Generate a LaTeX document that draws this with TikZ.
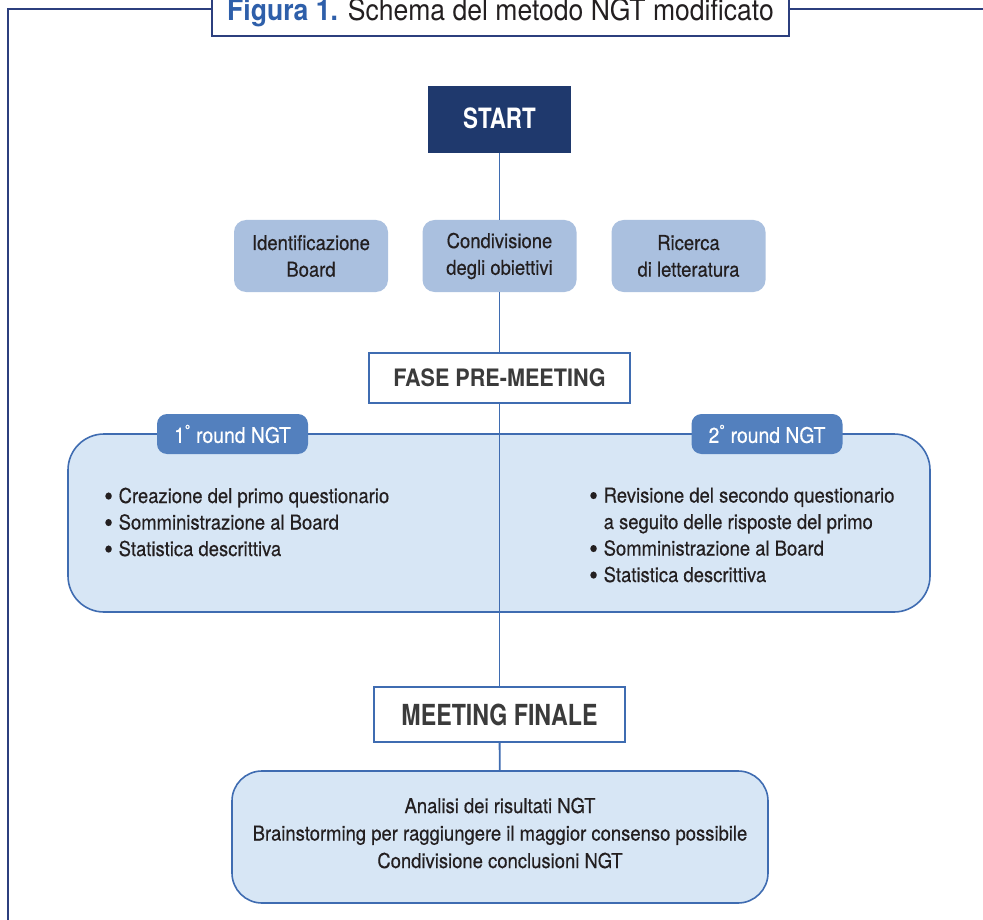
\documentclass[tikz,border=0pt]{standalone}
\usepackage{fontspec}
\setmainfont{TeX Gyre Heros}
\newfontfamily\fA[FakeStretch=0.9,FakeBold=0.4]{TeX Gyre Heros}
\newfontfamily\fT[FakeStretch=0.9]{TeX Gyre Heros}
\newfontfamily\fB[FakeStretch=0.8]{TeX Gyre Heros}
\definecolor{navy}{HTML}{2C3F7E}
\definecolor{startblue}{HTML}{1F396D}
\definecolor{lineblue}{HTML}{3F6CB1}
\definecolor{panelblue}{HTML}{D7E6F5}
\definecolor{boxblue}{HTML}{AAC0DF}
\definecolor{tabblue}{HTML}{5380BE}
\definecolor{titleblue}{HTML}{2E5FAA}
\definecolor{headgray}{HTML}{3B3B3B}
\definecolor{txt}{HTML}{231F20}
\tikzset{
  frameline/.style={draw=navy, line width=2.2pt},
  titlebox/.style={draw=navy, line width=1.3pt, fill=white, minimum width=577pt, minimum height=47pt, inner sep=0pt, text=txt, font=\fT\fontsize{29.5}{32}\selectfont},
  startbox/.style={fill=startblue, text=white, minimum width=143pt, minimum height=67pt, inner sep=0pt, font=\fB\bfseries\fontsize{28}{30}\selectfont},
  smallbox/.style={fill=boxblue, rounded corners=12pt, minimum width=154pt, minimum height=72pt, inner sep=0pt, align=center, text=txt, font=\fA\fontsize{20.5}{26.7}\selectfont},
  phasebox/.style={draw=lineblue, line width=1.8pt, fill=white, inner sep=0pt, text=headgray},
  panelbox/.style={draw=lineblue, line width=1.6pt, fill=panelblue, rounded corners=36pt, minimum width=862pt, minimum height=178pt, inner sep=0pt},
  tabbox/.style={fill=tabblue, rounded corners=10pt, minimum width=151pt, minimum height=40pt, inner sep=0pt, text=white, font=\fA\fontsize{21.5}{24}\selectfont},
  finalbox/.style={draw=lineblue, line width=1.6pt, fill=panelblue, rounded corners=30pt, minimum width=536pt, minimum height=132pt, inner sep=0pt},
  bodytext/.style={inner sep=0pt, text=txt, font=\fA\fontsize{20.5}{26.5}\selectfont},
  conn/.style={draw=lineblue, line width=1.8pt}
}
\newcommand{\bul}{\makebox[14.5pt][l]{\raisebox{-2.6pt}{\scalebox{1.35}{•}}}}
\begin{document}
\begin{tikzpicture}[x=1pt,y=-1pt]
\useasboundingbox (0,0) rectangle (983,920);
\clip (0,0) rectangle (983,920);
% frame
\coordinate (fl) at (8,9);
\coordinate (fb) at (8,935);
\coordinate (ftl) at (212,9);
\coordinate (ftr) at (789,9);
\coordinate (fr) at (995,9);
\draw[frameline] (ftl) -- (fl) -- (fb);
\draw[frameline] (ftr) -- (fr);
% title
\node[titlebox] (title) at (500.5,12.5) {{\bfseries\color{titleblue}Figura 1.} Schema del metodo NGT modificato};
% start
\node[startbox] (start) at (499.5,119.5) {\raisebox{2pt}{START}};
% three boxes
\node[smallbox] (ident) at (311,256) {Identificazione\\Board};
\node[smallbox] (cond) at (499.5,256) {Condivisione\\degli obiettivi};
\node[smallbox] (ricerca) at (688.5,256) {Ricerca\\di letteratura};
% fase
\node[phasebox, minimum width=261pt, minimum height=50pt, font=\fT\bfseries\fontsize{24}{26}\selectfont] (fase) at (499.5,378) {FASE PRE-MEETING};
\draw[conn] (start) -- (cond);
\draw[conn] (cond) -- (fase);
% panel
\node[panelbox] (panel) at (499,523) {};
\node[tabbox] (tab1) at (232.5,434) {1\textsuperscript{°} round NGT};
\node[tabbox] (tab2) at (767,434) {2\textsuperscript{°} round NGT};
\node[bodytext, anchor=base west, align=left] (list1) at (104,556) {\bul Creazione del primo questionario\\\bul Somministrazione al Board\\\bul Statistica descrittiva};
\node[bodytext, anchor=base west, align=left] (list2) at (589,582) {\bul Revisione del secondo questionario\\\hspace*{14.5pt}a seguito delle risposte del primo\\\bul Somministrazione al Board\\\bul Statistica descrittiva};
% meeting
\node[phasebox, minimum width=251pt, minimum height=55pt, font=\fB\bfseries\fontsize{29}{31}\selectfont] (meeting) at (499.5,714.5) {MEETING FINALE};
\draw[conn] (fase) -- (meeting);
% final
\node[finalbox] (final) at (500,837) {};
\draw[conn] (meeting) -- (final);
\node[bodytext, anchor=base, align=center, font=\fA\fontsize{20.5}{27.5}\selectfont] (finaltext) at (500,868) {Analisi dei risultati NGT\\Brainstorming per raggiungere il maggior consenso possibile\\Condivisione conclusioni NGT};
\end{tikzpicture}
\end{document}
